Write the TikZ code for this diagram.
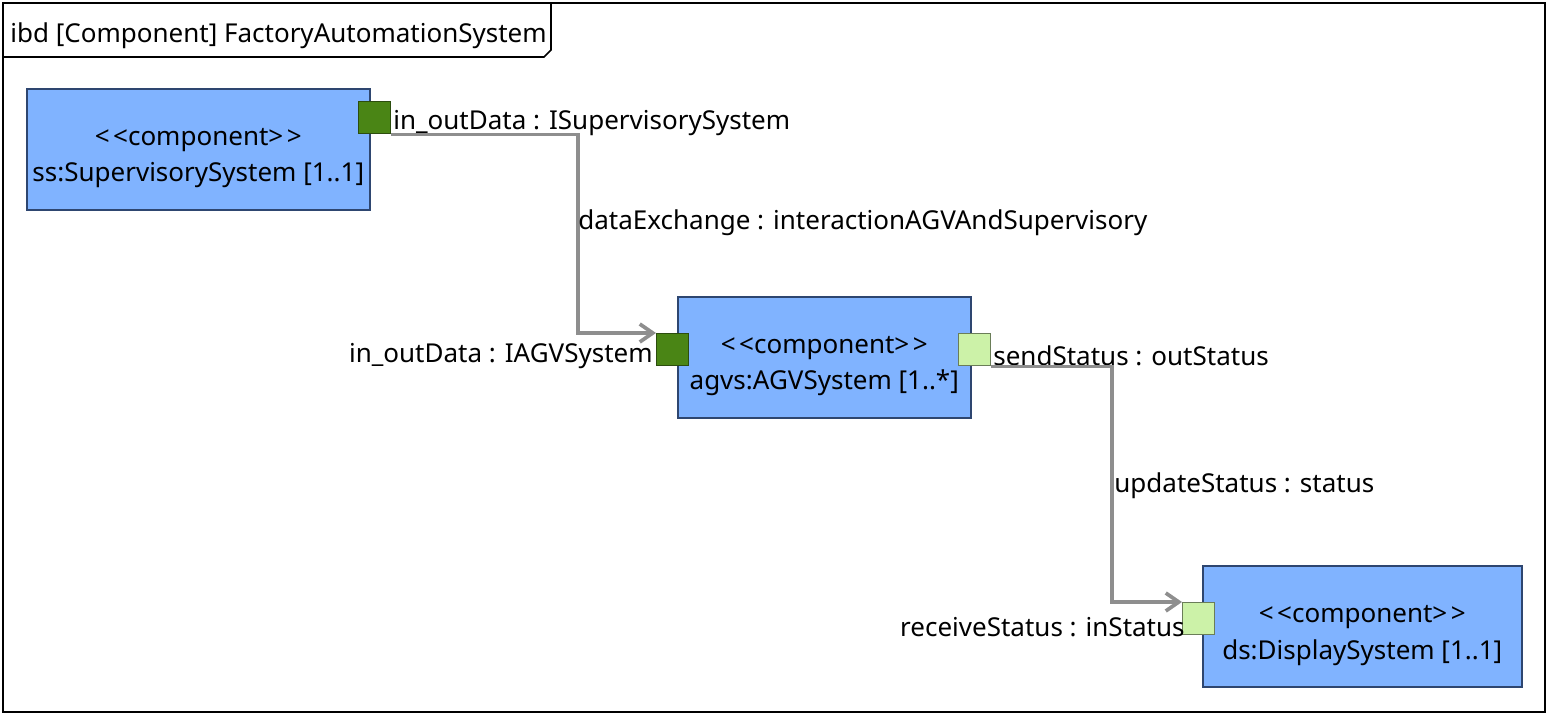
\documentclass[tikz,border=0pt]{standalone}
\usepackage{fontspec}
\setmainfont{Noto Sans}
\usetikzlibrary{arrows.meta, positioning, calc}

\definecolor{partblue}{HTML}{80B3FF}
\definecolor{partedge}{HTML}{2E4670}
\definecolor{portdark}{HTML}{4A8515}
\definecolor{portdarkedge}{HTML}{2C4D0E}
\definecolor{portlight}{HTML}{CCF2A8}
\definecolor{portlightedge}{HTML}{6A7D58}
\definecolor{conngray}{HTML}{8E8E8E}

\newcommand{\stereo}{{<}\kern2pt{<}component{>}\kern2pt{>}}

\begin{document}
\begin{tikzpicture}[
    x=0.02cm, y=-0.02cm,
    font=\fontsize{14.8}{20.8}\selectfont,
    part/.style      ={draw=partedge, fill=partblue, line width=0.9pt,
                       inner sep=0pt, anchor=north west, minimum height=2.42cm},
    partname/.style  ={align=center, inner sep=0pt, yshift=-0.18cm},
    darkport/.style  ={draw=portdarkedge, fill=portdark, line width=0.8pt,
                       minimum size=0.64cm, inner sep=0pt, anchor=north west},
    lightport/.style ={draw=portlightedge, fill=portlight, line width=0.8pt,
                       minimum size=0.64cm, inner sep=0pt, anchor=north west},
    lbl/.style       ={inner sep=0pt},
    conn/.style      ={draw=conngray, line width=2.1pt,
                       -{Straight Barb[length=2.6mm, width=3.6mm, line width=2.1pt]}}
]
\useasboundingbox (0,0) rectangle (1548,716);

% =================== Frame ===================
\draw[line width=1pt] (3,3) rectangle (1545,712);
\draw[line width=1pt] (3,57) -- (544,57) -- (551,50) -- (551,3);
\node[lbl, anchor=west] (title) at (10,36) {ibd [Component] FactoryAutomationSystem};

% =================== Parts ===================
\node[part, minimum width=6.86cm] (ss) at (26,88) {};
\node[partname] (ssname) at (ss.center) {\stereo\\ss:SupervisorySystem [1..1]};
\node[part, minimum width=5.86cm] (agvs) at (677,296) {};
\node[partname] (agvsname) at (agvs.center) {\stereo\\agvs:AGVSystem [1..*]};
\node[part, minimum width=6.38cm] (ds) at (1202,565) {};
\node[partname] (dsname) at (ds.center) {\stereo\\ds:DisplaySystem [1..1]};

% =================== Ports ===================
\node[darkport]  (ssport) at (358,101) {};
\node[darkport]  (agvin)  at (656,333) {};
\node[lightport] (agvout) at (958,333) {};
\node[lightport] (dsin)   at (1182,602) {};

% --- Port labels ---
\node[lbl, anchor=west] (sslbl)     at (393,123) {in\_outData : ISupervisorySystem};
\node[lbl, anchor=east] (agvinlbl)  at (653,356) {in\_outData : IAGVSystem};
\node[lbl, anchor=west] (agvoutlbl) at (993,356) {sendStatus : outStatus};
\node[lbl, anchor=east] (dsinlbl)   at (1185,627) {receiveStatus : inStatus};

% --- Connectors ---
\coordinate (bendA) at (578,0);
\coordinate (bendB) at (1112,0);

\draw[conn] (ssport.south east) -| (bendA |- agvin.north west) -- (agvin.north west);
\node[lbl, anchor=west] (dxlbl) at (578,223) {dataExchange : interactionAGVAndSupervisory};

\draw[conn] (agvout.south east) -| (bendB |- dsin.north west) -- (dsin.north west);
\node[lbl, anchor=west] (uplbl) at (1114,486) {updateStatus : status};

\end{tikzpicture}
\end{document}
